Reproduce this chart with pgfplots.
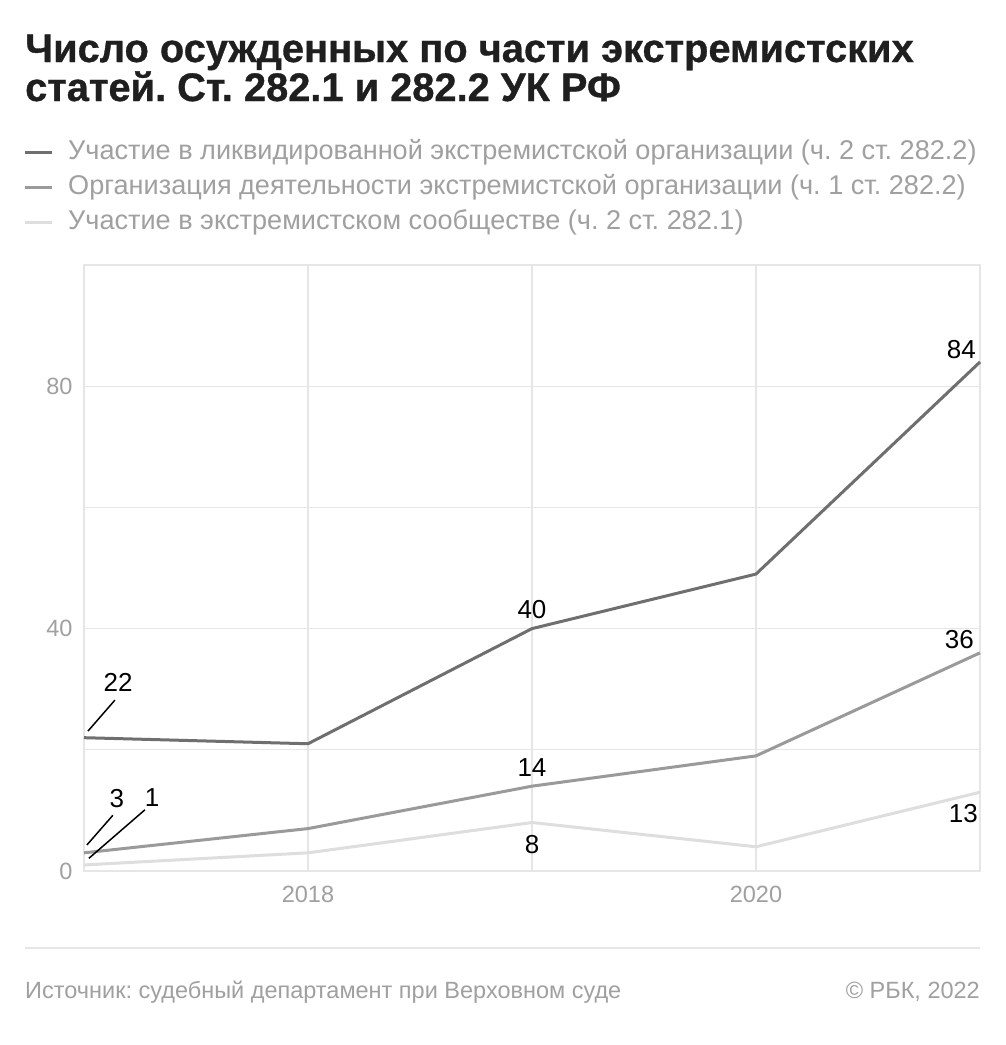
\documentclass[border=0pt]{standalone}
\usepackage{fontspec}
\setmainfont{Liberation Sans}
\newfontfamily\titlefont[BoldFont={Liberation Sans Bold}, BoldFeatures={FakeBold=0.8}]{Liberation Sans}
\usepackage{pgfplots}
\pgfplotsset{compat=1.18}
\frenchspacing
\definecolor{sdark}{HTML}{6F6F6F}
\definecolor{smid}{HTML}{9A9A9A}
\definecolor{slight}{HTML}{DEDEDE}
\definecolor{gridc}{HTML}{E6E6E6}
\definecolor{txtgray}{HTML}{A0A0A0}
\newcommand{\lab}{\fontsize{26}{30}\selectfont}
\newcommand{\leg}{\fontsize{27.1}{30}\selectfont}

\begin{document}
\begin{tikzpicture}
\useasboundingbox[fill=white] (0pt,0pt) rectangle (1005pt,-1045pt);

% title
\node[anchor=base west, inner sep=0, text=black!88, font=\fontsize{39.8}{42}\titlefont\bfseries] at (25pt,-62pt) {Число осужденных по части экстремистских};
\node[anchor=base west, inner sep=0, text=black!88, font=\fontsize{39.8}{42}\titlefont\bfseries] at (25pt,-101pt) {статей. Ст. 282.1 и 282.2 УК РФ};

% legend
\draw[sdark, line width=3pt] (25pt,-152pt) -- (52pt,-152pt);
\draw[smid, line width=3pt] (25pt,-187pt) -- (52pt,-187pt);
\draw[slight, line width=3pt] (25pt,-222pt) -- (52pt,-222pt);
\node[anchor=west, inner sep=0, text=txtgray, font=\leg] at (68pt,-152pt) {Участие в ликвидированной экстремистской организации (ч. 2 ст. 282.2)};
\node[anchor=west, inner sep=0, text=txtgray, font=\leg] at (68pt,-187pt) {Организация деятельности экстремистской организации (ч. 1 ст. 282.2)};
\node[anchor=west, inner sep=0, text=txtgray, font=\leg] at (68pt,-222pt) {Участие в экстремистском сообществе (ч. 2 ст. 282.1)};

\begin{axis}[
    at={(84pt,-871pt)}, anchor=south west,
    scale only axis, width=896pt, height=606pt,
    xmin=2017, xmax=2021, ymin=0, ymax=100,
    xtick={2017,2018,2019,2020,2021},
    xticklabels={,2018,,2020,},
    ytick={0,20,40,60,80,100},
    yticklabels={0,,40,,80,},
    major tick length=0pt,
    grid=major,
    grid style={gridc, line width=1.2pt},
    axis line style={gridc, line width=1.2pt},
    tick label style={text=txtgray, font=\fontsize{23.5}{27}\selectfont},
    xticklabel style={yshift=-12pt},
    yticklabel style={xshift=-8pt},
    clip=false,
]
\addplot[slight, line width=3pt, line join=round] coordinates {
    (2017,1) (2018,3) (2019,8) (2020,4) (2021,13)};
\addplot[smid, line width=3pt, line join=round] coordinates {
    (2017,3) (2018,7) (2019,14) (2020,19) (2021,36)};
\addplot[sdark, line width=3pt, line join=round] coordinates {
    (2017,22) (2018,21) (2019,40) (2020,49) (2021,84)};

% value labels
\node[font=\lab, anchor=south east, inner sep=0] at (axis cs:2021,84) [xshift=-4pt, yshift=3pt] {84};
\node[font=\lab, anchor=south, inner sep=0] at (axis cs:2019,40) [yshift=10pt] {40};
\node[font=\lab, anchor=south east, inner sep=0] at (axis cs:2021,36) [xshift=-6pt, yshift=4pt] {36};
\node[font=\lab, anchor=north east, inner sep=0] at (axis cs:2021,13) [xshift=-2pt, yshift=-12pt] {13};
\node[font=\lab, anchor=south, inner sep=0] at (axis cs:2019,14) [yshift=9pt] {14};
\node[font=\lab, anchor=north, inner sep=0] at (axis cs:2019,8) [yshift=-13pt] {8};
\draw[black, line width=1.5pt] (axis cs:2017.018,23.1) -- (axis cs:2017.138,28.2);
\node[font=\lab, inner sep=0] at (axis cs:2017.152,31.2) {22};
\draw[black, line width=1.5pt] (axis cs:2017.013,4.3) -- (axis cs:2017.129,9.2);
\node[font=\lab, inner sep=0] at (axis cs:2017.147,11.9) {3};
\draw[black, line width=1.5pt] (axis cs:2017.022,2.1) -- (axis cs:2017.272,10.1);
\node[font=\lab, inner sep=0] at (axis cs:2017.304,12.1) {1};
\end{axis}

% footer
\draw[gridc, line width=2pt] (25pt,-948pt) -- (980pt,-948pt);
\node[anchor=base west, inner sep=0, text=txtgray, font=\fontsize{23.5}{27}\selectfont] at (25pt,-998pt) {Источник: судебный департамент при Верховном суде};
\node[anchor=base east, inner sep=0, text=txtgray, font=\fontsize{23.5}{27}\selectfont] at (980pt,-998pt) {© РБК, 2022};
\end{tikzpicture}
\end{document}
